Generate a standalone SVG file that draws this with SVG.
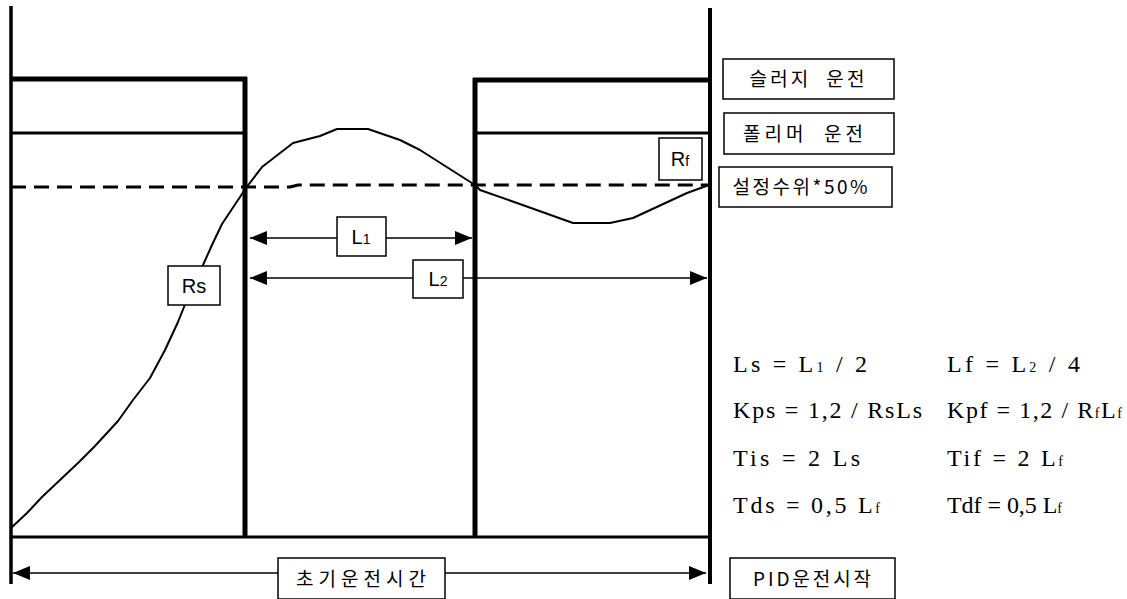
<svg xmlns="http://www.w3.org/2000/svg" width="1127" height="599" viewBox="0 0 1127 599">
<style>
.frame{stroke:#000;fill:none;stroke-linecap:butt}
.box{fill:#fff;stroke:#000;stroke-width:1.5}
.lbl{font-family:"Noto Sans CJK KR","Liberation Sans",sans-serif;font-size:19px;fill:#000;text-anchor:middle;white-space:pre}
.sym{font-family:"Liberation Sans","DejaVu Sans",sans-serif;font-size:20px;fill:#000;text-anchor:middle}
.fx{font-family:"Liberation Serif","DejaVu Serif",serif;font-size:24px;fill:#000;white-space:pre}
.sub{font-size:14px}
.conn{stroke:#000;stroke-width:1.6;fill:none}
</style>
<defs>
<marker id="ah" markerUnits="userSpaceOnUse" markerWidth="18" markerHeight="16" refX="17" refY="7" orient="auto-start-reverse">
<polygon points="0,0 17,7 0,14" fill="#000"/>
</marker>
</defs>
<rect width="1127" height="599" fill="#fff"/>
<g id="frame">
<line class="frame" x1="11" y1="6" x2="11" y2="584" stroke-width="3.5"/>
<line class="frame" x1="710" y1="8" x2="710" y2="584" stroke-width="4"/>
<line class="frame" x1="11" y1="79" x2="247" y2="79" stroke-width="5"/>
<line class="frame" x1="11" y1="133" x2="245" y2="133" stroke-width="3"/>
<line class="frame" x1="245" y1="77" x2="245" y2="537" stroke-width="5"/>
<line class="frame" x1="475" y1="78" x2="475" y2="537" stroke-width="5"/>
<line class="frame" x1="473" y1="80" x2="710" y2="80" stroke-width="5"/>
<line class="frame" x1="475" y1="133" x2="710" y2="133" stroke-width="3"/>
<line class="frame" x1="11" y1="537" x2="710" y2="537" stroke-width="3"/>
<path class="frame" d="M11,187 L290,187 L298,185 L710,185" stroke-width="3" stroke-dasharray="15,8"/>
<path class="frame" stroke-width="2" stroke-linejoin="round" d="M11,528 L27,513 L42,497 L60,480 L78,463 L95,446 L118,421 L133,400 L150,378 L165,350 L178,322 L190,292 L203,265 L212,245 L222,224 L234,206 L246,188 L262,167 L293,143 L320,136 L337,129 L368,129 L400,140 L420,150 L475,185 L480,190 L517,203 L573,223 L610,223 L633,218 L687,193 L709,185"/>
</g>
<g id="connectors">
<line class="conn" x1="250" y1="238" x2="472" y2="238" marker-start="url(#ah)" marker-end="url(#ah)"/>
<line class="conn" x1="250" y1="278" x2="707" y2="278" marker-start="url(#ah)" marker-end="url(#ah)"/>
<line class="conn" x1="13" y1="573" x2="706" y2="573" marker-start="url(#ah)" marker-end="url(#ah)"/>
</g>
<g id="node-rs"><rect class="box" x="168" y="266" width="52" height="39"/><text class="sym" x="194" y="293">Rs</text></g>
<g id="node-rf"><rect class="box" x="659" y="138" width="43" height="42"/><text class="sym" x="680" y="166">R<tspan class="sub">f</tspan></text></g>
<g id="node-l1"><rect class="box" x="337" y="217" width="49" height="39"/><text class="sym" x="361" y="244">L<tspan class="sub">1</tspan></text></g>
<g id="node-l2"><rect class="box" x="413" y="260" width="50" height="38"/><text class="sym" x="438" y="286">L<tspan class="sub">2</tspan></text></g>
<g id="node-sludge"><rect class="box" x="723" y="59" width="171" height="40"/><text class="lbl" x="807" y="86" textLength="115" lengthAdjust="spacing">슬러지  운전</text></g>
<g id="node-polymer"><rect class="box" x="724" y="113" width="170" height="41"/><text class="lbl" x="803" y="141" textLength="120" lengthAdjust="spacing">폴리머  운전</text></g>
<g id="node-level"><rect class="box" x="719" y="167" width="173" height="40"/><text class="lbl" x="800" y="194" textLength="135" lengthAdjust="spacing">설정수위*50%</text></g>
<g id="node-initial"><rect class="box" x="278" y="558" width="167" height="41"/><text class="lbl" x="361" y="586" textLength="130" lengthAdjust="spacing">초기운전시간</text></g>
<g id="node-pid"><rect class="box" x="730" y="558" width="165" height="41"/><text class="lbl" x="812" y="586" textLength="118" lengthAdjust="spacing">PID운전시작</text></g>
<g id="formulas" class="fx">
<text x="733" y="372" textLength="134" lengthAdjust="spacing">Ls  =  L<tspan class="sub">1</tspan>  /  2</text>
<text x="947" y="372" textLength="133" lengthAdjust="spacing">Lf  =  L<tspan class="sub">2</tspan>  /  4</text>
<text x="733" y="418" textLength="189" lengthAdjust="spacing">Kps = 1,2 /  RsLs</text>
<text x="947" y="418" textLength="175" lengthAdjust="spacing">Kpf = 1,2 /  R<tspan class="sub">f</tspan>L<tspan class="sub">f</tspan></text>
<text x="733" y="466" textLength="127" lengthAdjust="spacing">Tis  =  2 Ls</text>
<text x="947" y="466" textLength="116" lengthAdjust="spacing">Tif  =  2 L<tspan class="sub">f</tspan></text>
<text x="733" y="513" textLength="147" lengthAdjust="spacing">Tds  =  0,5 L<tspan class="sub">f</tspan></text>
<text x="947" y="513" textLength="115" lengthAdjust="spacing">Tdf = 0,5 L<tspan class="sub">f</tspan></text>
</g>
</svg>
